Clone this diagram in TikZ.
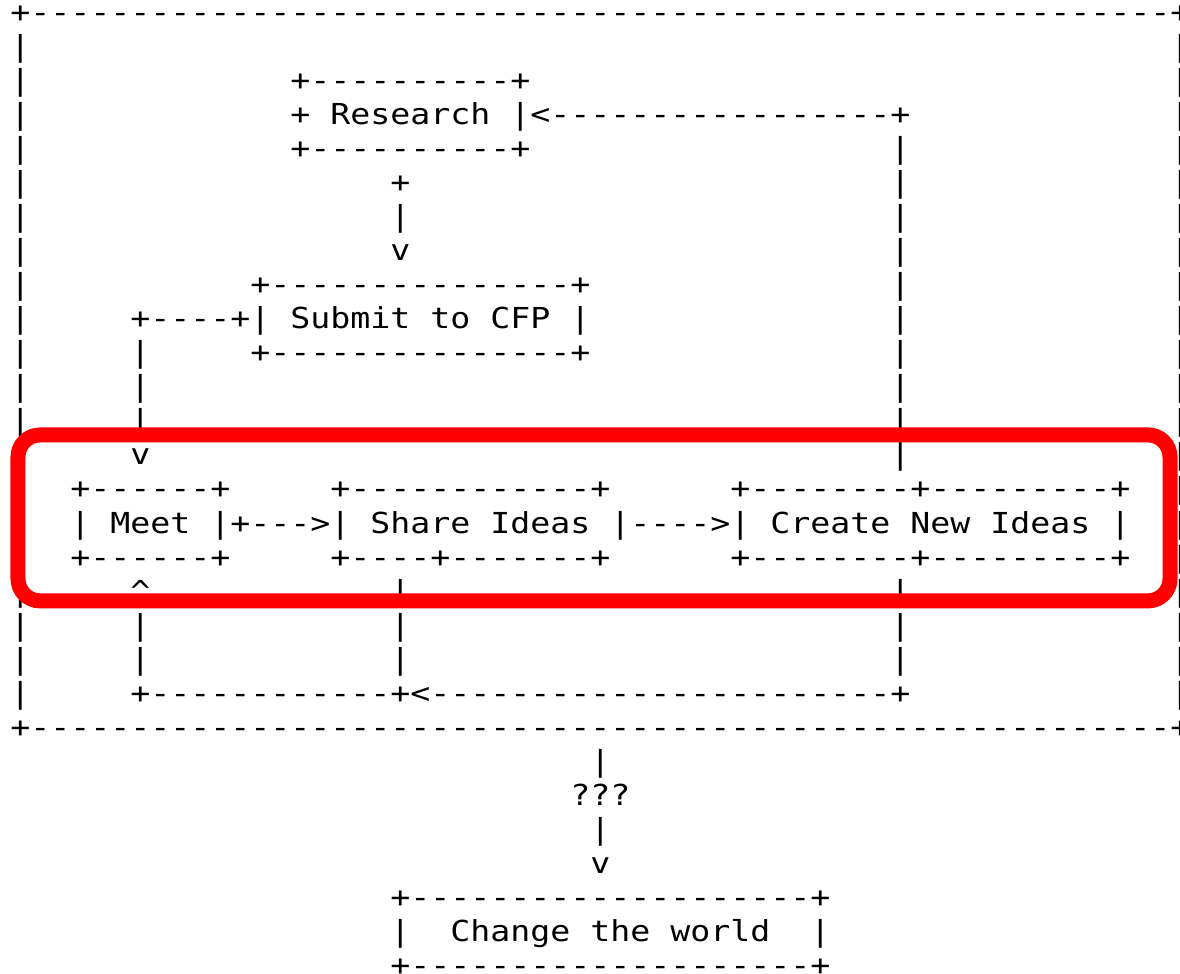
\documentclass[tikz,border=0pt]{standalone}
\usepackage{fontspec}
\setmonofont{DejaVu Sans Mono}[FakeStretch=1.15]

\begin{document}
\begin{tikzpicture}[x=0.4cm,y=-0.6814cm,
					font=\ttfamily\fontsize{16.44pt}{19.39pt}\selectfont]
					\tikzstyle{ascii}=[inner sep=0pt,anchor=base west]
					\tikzstyle{highlight}=[draw=red,line width=0.3cm,rounded corners=0.44cm]
					
					% one unit = one character cell
					\useasboundingbox (-0.5,-0.6457) rectangle (58.5,27.942);
					
					% outer frame
					\node[ascii] (frame_top) at (0,0)  {+---------------------------------------------------------+};
					\node[ascii] (frame_bot) at (0,21) {+---------------------------------------------------------+};
					\foreach \r in {1,...,20} {
						\node[ascii] (frame_l\r) at (0,\r)  {|};
						\node[ascii] (frame_r\r) at (58,\r) {|};
					}
					
					% Research
					\node[ascii] (research_top) at (14,2) {+----------+};
					\node[ascii] (research)     at (14,3) {+ Research |};
					\node[ascii] (research_bot) at (14,4) {+----------+};
					\node[ascii] (back_in)      at (26,3) {<-----------------+};
					\node[ascii] (down_1) at (19,5) {+};
					\node[ascii] (down_2) at (19,6) {|};
					\node[ascii] (down_3) at (19,7) {v};
					
					% Submit to CFP
					\node[ascii] (submit_top) at (12,8)  {+---------------+};
					\node[ascii] (submit)     at (12,9)  {| Submit to CFP |};
					\node[ascii] (submit_bot) at (12,10) {+---------------+};
					\node[ascii] (to_meet)    at (6,9)   {+----+};
					\node[ascii] (to_meet_1)  at (6,10)  {|};
					\node[ascii] (to_meet_2)  at (6,11)  {|};
					\node[ascii] (to_meet_3)  at (6,12)  {|};
					\node[ascii] (to_meet_4)  at (6,13)  {v};
					
					% Meet -> Share Ideas -> Create New Ideas
					\node[ascii] (meet_top)   at (3,14)  {+------+};
					\node[ascii] (meet)       at (3,15)  {| Meet |};
					\node[ascii] (meet_bot)   at (3,16)  {+------+};
					\node[ascii] (meet_share) at (11,15) {+--->};
					\node[ascii] (share_top)  at (16,14) {+------------+};
					\node[ascii] (share)      at (16,15) {| Share Ideas |};
					\node[ascii] (share_bot)  at (16,16) {+----+-------+};
					\node[ascii] (share_new)  at (31,15) {---->};
					\node[ascii] (create_top) at (36,14) {+--------+---------+};
					\node[ascii] (create)     at (36,15) {| Create New Ideas |};
					\node[ascii] (create_bot) at (36,16) {+--------+---------+};
					
					% loop back to Research
					\foreach \r in {4,...,13} {
						\node[ascii] (back_up\r) at (44,\r) {|};
					}
					
					% loop back to Meet
					\node[ascii] (up_meet) at (6,17) {\textasciicircum};
					\node[ascii] (up_meet18) at (6,18) {|};
					\node[ascii] (up_meet19) at (6,19) {|};
					\foreach \r in {17,18,19} {
						\node[ascii] (share_down\r)  at (19,\r) {|};
						\node[ascii] (create_down\r) at (44,\r) {|};
					}
					\node[ascii] (back_left)  at (6,20)  {+------------+};
					\node[ascii] (back_right) at (20,20) {<-----------------------+};
					
					% way out
					\node[ascii] (out_1) at (29,22) {|};
					\node[ascii] (what)  at (28,23) {???};
					\node[ascii] (out_2) at (29,24) {|};
					\node[ascii] (out_3) at (29,25) {v};
					\node[ascii] (world_top) at (19,26) {+--------------------+};
					\node[ascii] (world)     at (19,27) {|~~Change the world~~|};
					\node[ascii] (world_bot) at (19,28) {+--------------------+};
					
					% red frame round the middle row
					\coordinate (hl_nw) at (0.4,12.12);
					\coordinate (hl_se) at (58,16.99);
					\draw[highlight] (hl_nw) rectangle (hl_se);
					\end{tikzpicture}
\end{document}
